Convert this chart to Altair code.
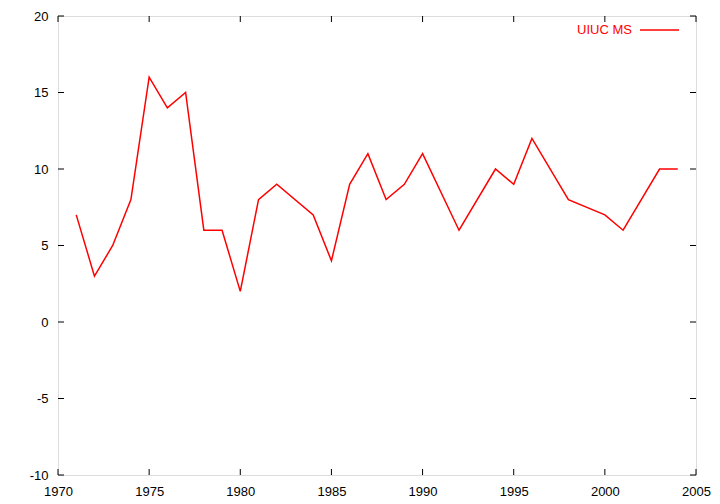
import altair as alt
import pandas as pd

years = [1971, 1972, 1973, 1974, 1975, 1976, 1977, 1978, 1979, 1980, 1981, 1982,
         1984, 1985, 1986, 1987, 1988, 1989, 1990, 1992, 1994, 1995, 1996, 1998,
         2000, 2001, 2003, 2004]
values = [7, 3, 5, 8, 16, 14, 15, 6, 6, 2, 8, 9,
          7, 4, 9, 11, 8, 9, 11, 6, 10, 9, 12, 8,
          7, 6, 10, 10]
x_ticks = [1970, 1975, 1980, 1985, 1990, 1995, 2000, 2005]
y_ticks = [-10, -5, 0, 5, 10, 15, 20]
series_name = "UIUC MS"

W, H = 638, 459
TICK = 6
FONT = "Liberation Sans"

df = pd.DataFrame({"year": years, "value": values})
xt = pd.DataFrame({"t": x_ticks})
yt = pd.DataFrame({"t": y_ticks})

xs = alt.Scale(domain=[1970, 2005], nice=False, zero=False)
ys = alt.Scale(domain=[-10, 20], nice=False, zero=False)

line = alt.Chart(df).mark_line(color="#ff0000", strokeWidth=1.5).encode(
    x=alt.X("year:Q", scale=xs,
            axis=alt.Axis(values=x_ticks, labelExpr="'' + datum.value", title=None,
                          grid=False, ticks=False, domain=False, labelPadding=10,
                          labelFlush=False, labelOverlap=False,
                          labelFont=FONT, labelFontSize=13, labelColor="black")),
    y=alt.Y("value:Q", scale=ys,
            axis=alt.Axis(values=y_ticks, labelExpr="'' + datum.value", title=None,
                          grid=False, ticks=False, domain=False, labelPadding=10,
                          labelFlush=False, labelOverlap=False,
                          labelFont=FONT, labelFontSize=13, labelColor="black")),
)

xb = alt.Chart(xt).mark_rule(color="black", strokeWidth=1).encode(
    x=alt.X("t:Q", scale=xs), y=alt.value(H), y2=alt.value(H - TICK))
xtop = alt.Chart(xt).mark_rule(color="black", strokeWidth=1).encode(
    x=alt.X("t:Q", scale=xs), y=alt.value(0), y2=alt.value(TICK))
yl = alt.Chart(yt).mark_rule(color="black", strokeWidth=1).encode(
    y=alt.Y("t:Q", scale=ys), x=alt.value(0), x2=alt.value(TICK))
yr = alt.Chart(yt).mark_rule(color="black", strokeWidth=1).encode(
    y=alt.Y("t:Q", scale=ys), x=alt.value(W), x2=alt.value(W - TICK))

leg_df = pd.DataFrame({"name": [series_name]})
leg_text = alt.Chart(leg_df).mark_text(
    color="#ff0000", align="right", baseline="middle", font=FONT, fontSize=13
).encode(text="name:N", x=alt.value(574), y=alt.value(14))
leg_line = alt.Chart(leg_df).mark_rule(color="#ff0000", strokeWidth=1.5).encode(
    x=alt.value(582), x2=alt.value(621), y=alt.value(14))

chart = alt.layer(xb, xtop, yl, yr, line, leg_text, leg_line).properties(
    width=W, height=H,
    autosize=alt.AutoSizeParams(type="none"),
    padding={"left": 50, "top": 8, "right": 16, "bottom": 28},
).configure_view(stroke="black", strokeWidth=1).configure(background="white")

chart.save("out.html", embed_options={"renderer": "svg", "actions": False})
